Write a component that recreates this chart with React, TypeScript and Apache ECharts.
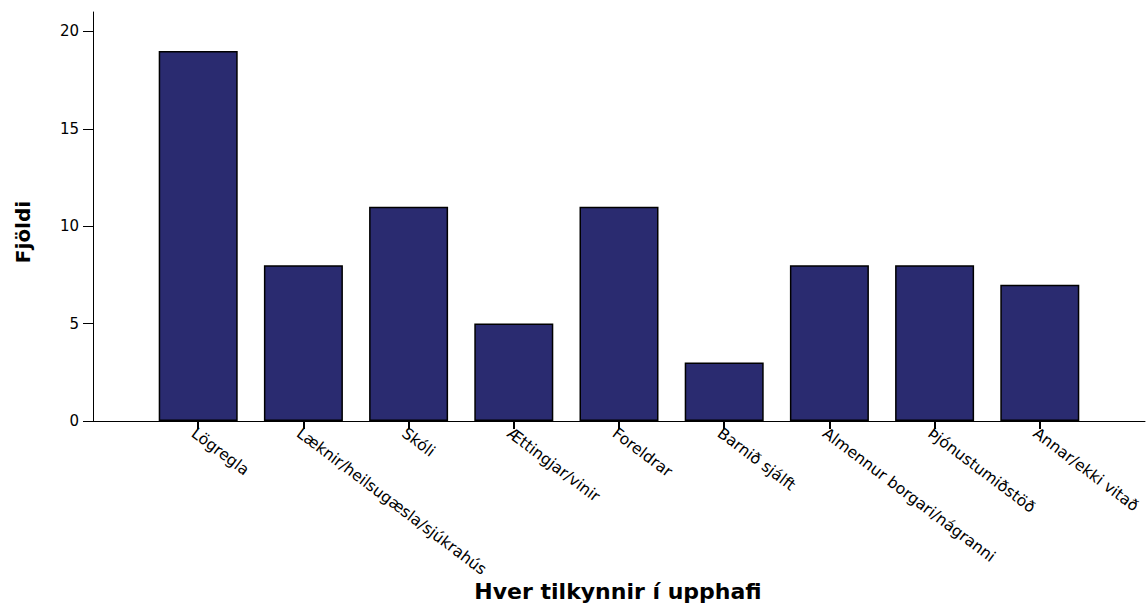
import React, { useEffect, useRef } from "react";
import * as echarts from "echarts";

const categories = [
  "Lögregla",
  "Læknir/heilsugæsla/sjúkrahús",
  "Skóli",
  "Ættingjar/vinir",
  "Foreldrar",
  "Barnið sjálft",
  "Almennur borgari/nágranni",
  "Þjónustumiðstöð",
  "Annar/ekki vitað",
];
const counts = [19, 8, 11, 5, 11, 3, 8, 8, 7];
const yTicks = [0, 5, 10, 15, 20];
const yTitle = "Fjöldi";
const xTitle = "Hver tilkynnir í upphafi";

export default function App() {
  const ref = useRef<HTMLDivElement>(null);
  useEffect(() => {
    if (!ref.current) return;
    const chart = echarts.init(ref.current, null, { renderer: "svg" });
    const cats = ["", ...categories, ""];
    const vals: any[] = ["-", ...counts, "-"];
    const font = "'DejaVu Sans', 'Liberation Sans', Arial, sans-serif";
    chart.setOption({
      animation: false,
      textStyle: { fontFamily: font },
      grid: {
        left: 93,
        width: 1052,
        top: 12,
        height: 409,
        containLabel: false,
        outerBoundsMode: "none",
      },
      xAxis: {
        type: "category",
        data: cats,
        boundaryGap: false,
        axisLine: { lineStyle: { color: "#000", width: 1 } },
        axisTick: {
          show: true,
          length: 8,
          interval: (i: number) => i > 0 && i < cats.length - 1,
          lineStyle: { color: "#000", width: 2 },
        },
        axisLabel: {
          interval: 0,
          rotate: -37,
          margin: 4,
          verticalAlign: "top",
          color: "#000",
          fontSize: 15.6,
          fontFamily: font,
        },
        splitLine: { show: false },
      },
      yAxis: {
        type: "value",
        min: 0,
        max: 21,
        interval: 5,
        axisLine: { show: true, lineStyle: { color: "#000", width: 1 } },
        axisTick: { show: true, length: 10, customValues: yTicks, lineStyle: { color: "#000" } },
        axisLabel: { customValues: yTicks, color: "#000", fontSize: 15, margin: 14, fontFamily: font },
        splitLine: { show: false },
      },
      graphic: [
        {
          type: "text",
          x: 23,
          y: 232,
          rotation: Math.PI / 2,
          style: {
            text: yTitle,
            fontSize: 20,
            fontWeight: "bold",
            fill: "#000",
            fontFamily: font,
            align: "center",
            verticalAlign: "middle",
          },
        },
        {
          type: "text",
          x: 618,
          y: 591,
          style: {
            text: xTitle,
            fontSize: 22,
            fontWeight: "bold",
            fill: "#000",
            fontFamily: font,
            align: "center",
            verticalAlign: "middle",
          },
        },
      ],
      series: [
        {
          type: "bar",
          data: vals,
          barWidth: 79,
          itemStyle: { color: "#2a2b70", borderColor: "#000", borderWidth: 1.5 },
        },
      ],
    });
    return () => chart.dispose();
  }, []);
  return (
    <div
      ref={ref}
      style={{ position: "fixed", left: 0, top: 0, width: 1146, height: 604, background: "#fff" }}
    />
  );
}
